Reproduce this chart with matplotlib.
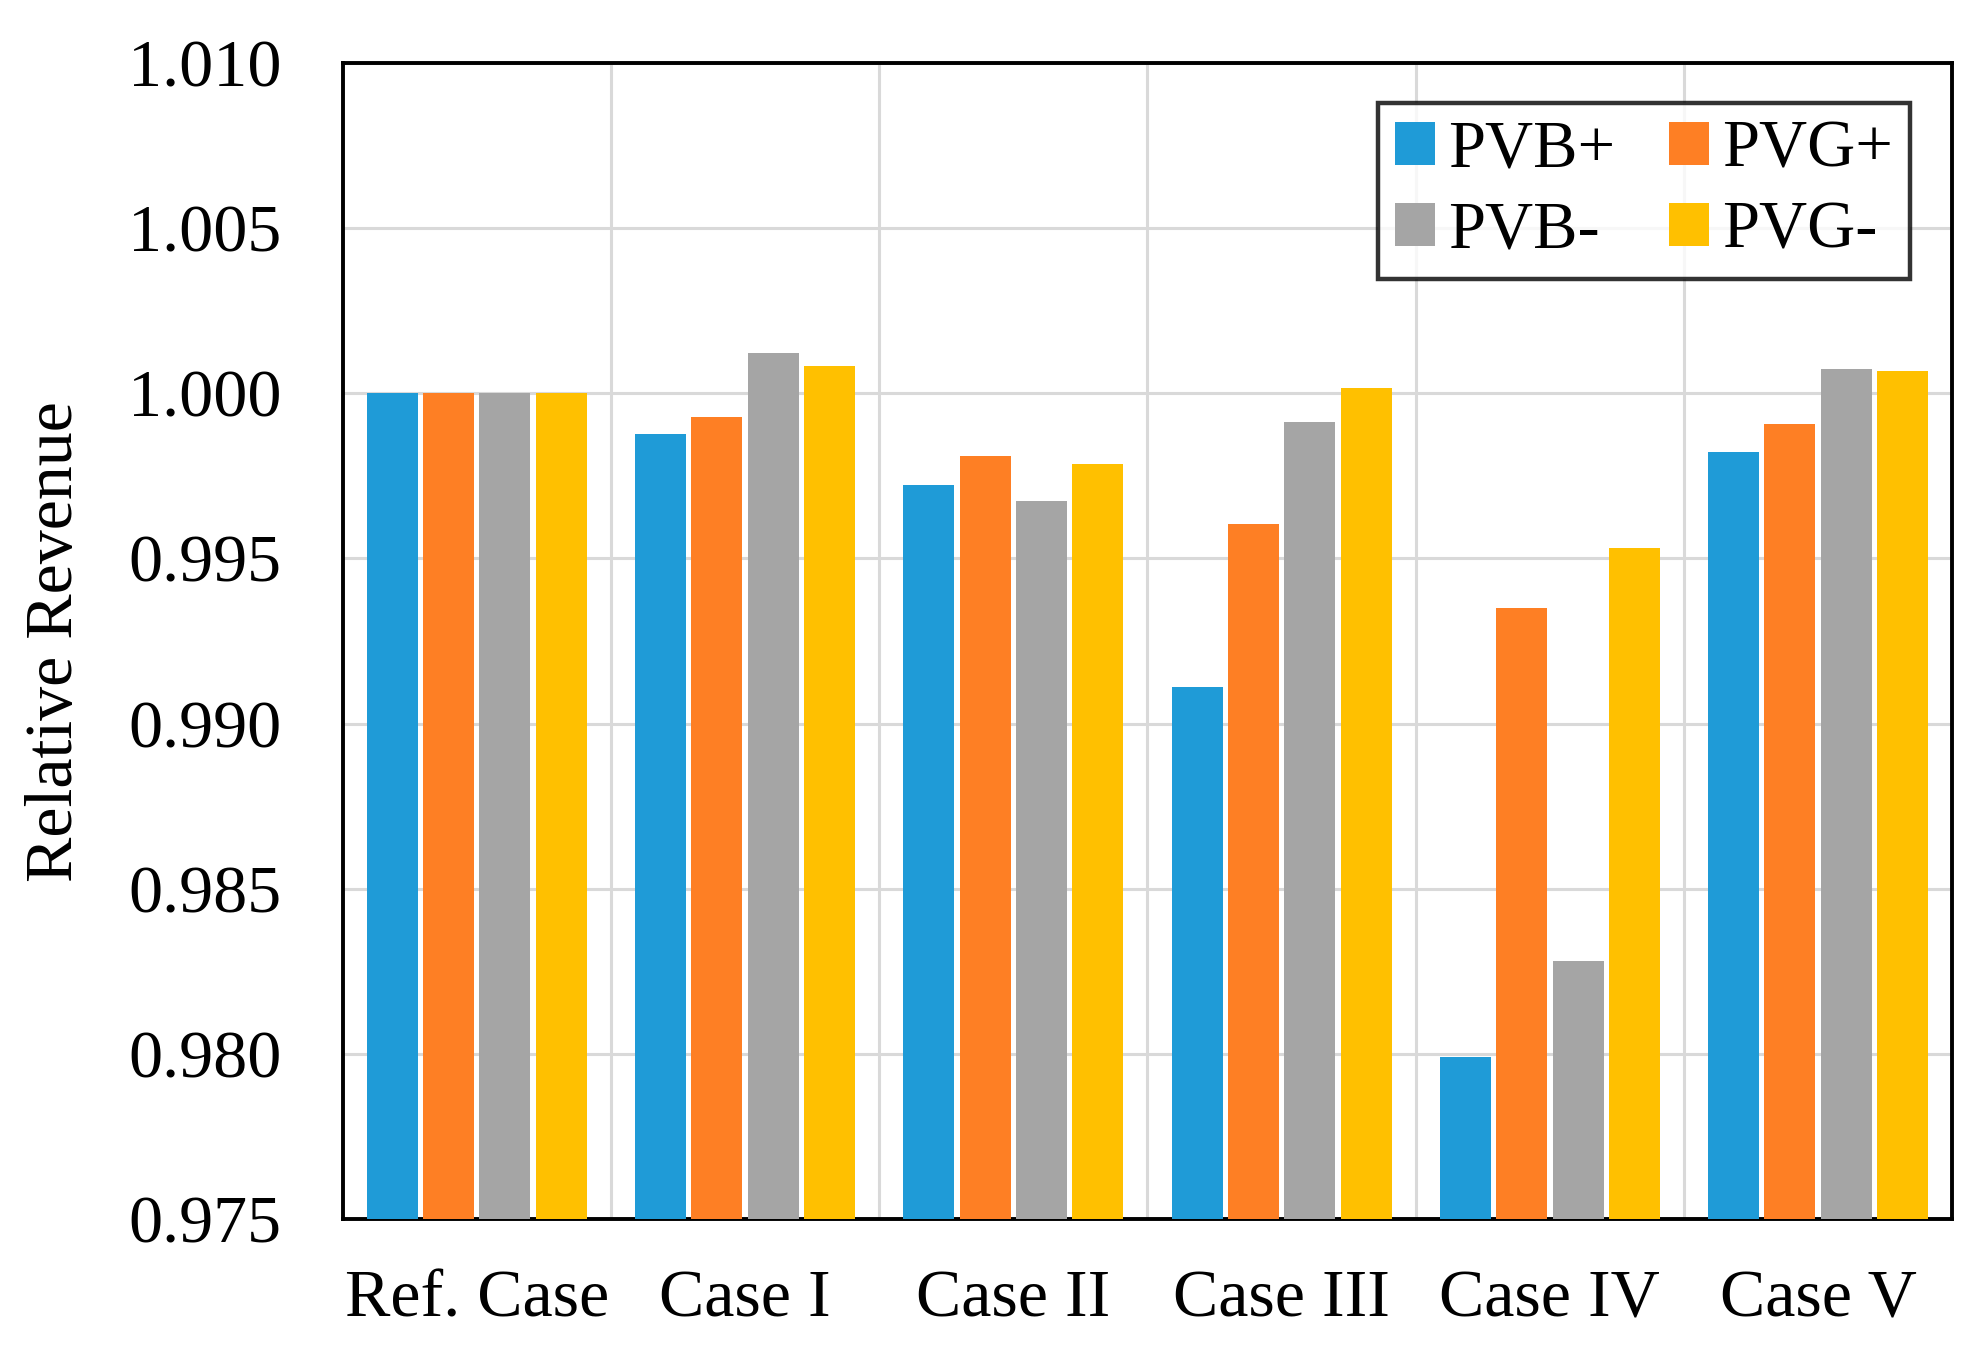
#! /usr/bin/env python3

import matplotlib
matplotlib.use("Agg")
import matplotlib.pyplot as plt
import numpy as np

plt.rcParams['font.family'] = ['Liberation Serif', 'DejaVu Serif']

labels = ["Ref. Case", "Case I", "Case II", "Case III", "Case IV", "Case V"]
pvb_plus  = [1.0000, 0.99878, 0.99721, 0.99111, 0.97990, 0.99823]
pvg_plus  = [1.0000, 0.99927, 0.99811, 0.99603, 0.99349, 0.99906]
pvb_minus = [1.0000, 1.00121, 0.99674, 0.99914, 0.98283, 1.00074]
pvg_minus = [1.0000, 1.00081, 0.99787, 1.00017, 0.99531, 1.00066]

series = [("PVB+", pvb_plus, "#1f9bd7"),
          ("PVG+", pvg_plus, "#fe7f24"),
          ("PVB-", pvb_minus, "#a5a5a5"),
          ("PVG-", pvg_minus, "#ffc000")]

x = np.arange(len(labels))
step = 0.21
width = 0.19
base = 0.975

fig = plt.figure(figsize=(19.8, 13.64), dpi=100)
ax = fig.add_axes([0.173, 0.106, 0.813, 0.848])

bars = []
for i, (name, vals, col) in enumerate(series):
    off = (i - 1.5) * step
    b = ax.bar(x + off, np.array(vals) - base, width, bottom=base, color=col,
               label=name, zorder=3)
    bars.append(b)

ax.set_xlim(-0.5, len(labels) - 0.5)
ax.set_ylim(0.975, 1.010)
yt = np.arange(0.975, 1.0101, 0.005)
ax.set_yticks(yt)
ax.set_yticklabels(["{:.3f}".format(v) for v in yt])
ax.set_xticks(x)
ax.set_xticklabels(labels)
ax.set_xticks(np.arange(0.5, len(labels) - 0.5, 1), minor=True)

ax.tick_params(axis='both', which='both', length=0, labelsize=49)
ax.tick_params(axis='x', pad=36)
ax.tick_params(axis='y', pad=44)

ax.grid(True, axis='y', which='major', color='#d9d9d9', linewidth=2.2, zorder=0)
ax.grid(True, axis='x', which='minor', color='#d9d9d9', linewidth=2.2, zorder=0)
ax.set_axisbelow(True)

for sp in ax.spines.values():
    sp.set_linewidth(2.8)
    sp.set_color('black')

ax.set_ylabel('Relative Revenue', fontsize=49, labelpad=30)

# row-wise legend order: PVB+ PVG+ / PVB- PVG-
order = [0, 2, 1, 3]
leg = ax.legend([bars[k] for k in order], [series[k][0] for k in order],
                loc="upper right", ncol=2, fontsize=48, frameon=True, fancybox=False,
                handlelength=0.6, handleheight=0.6, handletextpad=0.2,
                columnspacing=0.8, labelspacing=0.3, borderpad=0.25,
                borderaxespad=0, bbox_to_anchor=(0.9735, 0.965))
leg.get_frame().set_edgecolor('black')
leg.get_frame().set_linewidth(3.2)

plt.savefig("out.png", dpi=100)
